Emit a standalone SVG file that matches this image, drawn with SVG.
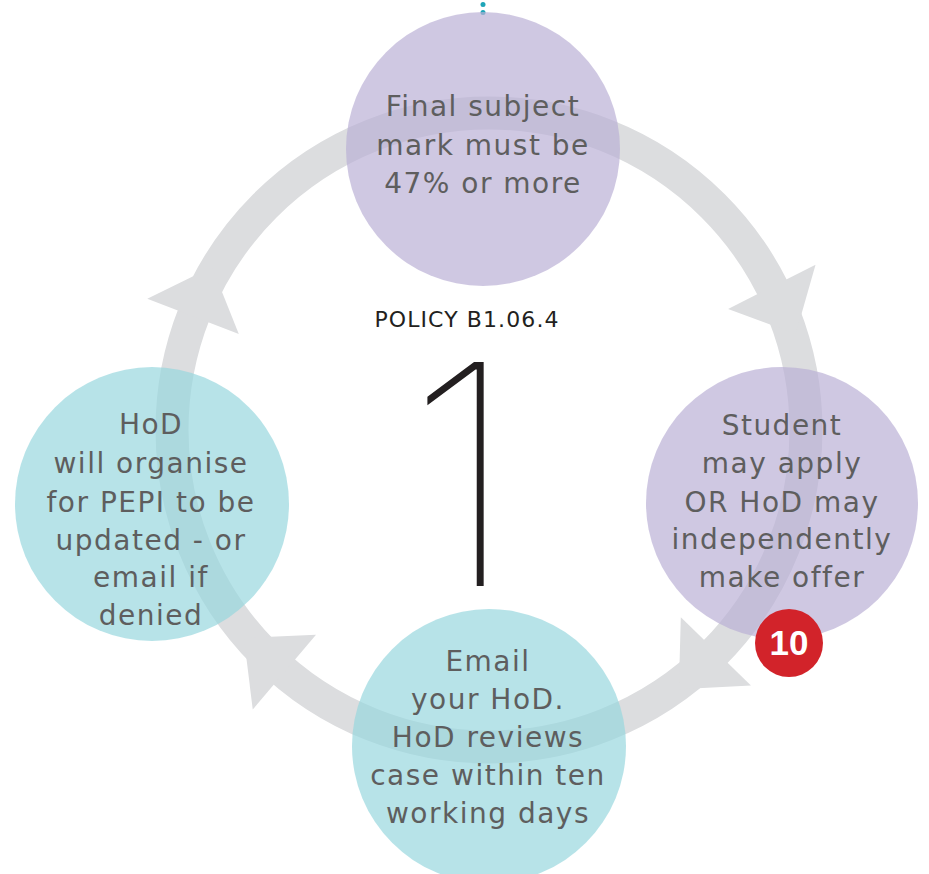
<svg xmlns="http://www.w3.org/2000/svg" width="929" height="874" viewBox="0 0 929 874">
<style>
  .ring{fill:none;stroke:#dcdddf;stroke-width:33}
  .head{fill:#dcdddf}
  .purple{fill:rgb(185,176,213);fill-opacity:0.69}
  .teal{fill:rgb(151,214,222);fill-opacity:0.69}
  .lbl{font-family:"DejaVu Sans",sans-serif;font-size:28px;letter-spacing:1.5px;fill:#5e5e5e;text-anchor:middle}
  .policy{font-family:"DejaVu Sans",sans-serif;font-size:22px;letter-spacing:1.1px;fill:#231f20;text-anchor:middle}
  .big{font-family:Inter,Lato,"Liberation Sans",sans-serif;font-weight:100;font-size:308px;fill:#231f20;text-anchor:middle}
  .badge{fill:#d2232a}
  .badgetxt{font-family:"Liberation Sans",sans-serif;font-weight:bold;font-size:35px;fill:#ffffff;text-anchor:middle}
  .dot{fill:#1fa5b8}
</style>
<defs>
  <polygon id="arrowhead" class="head" points="268,0 366,0 317,53"/>
</defs>
<rect width="929" height="874" fill="#ffffff"/>
<g id="connectors">
  <circle class="ring" cx="489" cy="430" r="317"/>
  <use href="#arrowhead" transform="translate(489 430) rotate(-159)"/>
  <use href="#arrowhead" transform="translate(489 430) rotate(-26.85)"/>
  <use href="#arrowhead" transform="translate(489 430) rotate(44.3)"/>
  <use href="#arrowhead" transform="translate(489 430) rotate(130.2)"/>
</g>
<g id="center">
  <text class="policy" x="467" y="327">POLICY B1.06.4</text>
  <text class="big" x="462" y="586">1</text>
</g>
<g id="dots">
  <circle class="dot" cx="483" cy="4.5" r="2.5"/>
  <circle class="dot" cx="483" cy="12.5" r="2.5"/>
</g>
<g id="node-top">
  <circle class="purple" cx="483" cy="149" r="137"/>
  <text class="lbl" x="483" y="116">Final subject</text>
  <text class="lbl" x="483" y="155">mark must be</text>
  <text class="lbl" x="483" y="193">47% or more</text>
</g>
<g id="node-right">
  <circle class="purple" cx="782" cy="503" r="136"/>
  <text class="lbl" x="782" y="435">Student</text>
  <text class="lbl" x="782" y="473">may apply</text>
  <text class="lbl" x="782" y="511.5">OR HoD may</text>
  <text class="lbl" x="782" y="549">independently</text>
  <text class="lbl" x="782" y="587">make offer</text>
</g>
<g id="node-bottom">
  <circle class="teal" cx="489" cy="746" r="137"/>
  <text class="lbl" x="488" y="671">Email</text>
  <text class="lbl" x="488" y="708.5">your HoD.</text>
  <text class="lbl" x="488" y="747">HoD reviews</text>
  <text class="lbl" x="488" y="785">case within ten</text>
  <text class="lbl" x="488" y="823">working days</text>
</g>
<g id="node-left">
  <circle class="teal" cx="152" cy="504" r="137"/>
  <text class="lbl" x="151" y="434">HoD</text>
  <text class="lbl" x="151" y="473">will organise</text>
  <text class="lbl" x="151" y="512">for PEPI to be</text>
  <text class="lbl" x="151" y="549.5">updated - or</text>
  <text class="lbl" x="151" y="587">email if</text>
  <text class="lbl" x="151" y="625">denied</text>
</g>
<g id="badge">
  <circle class="badge" cx="789" cy="643" r="34"/>
  <text class="badgetxt" x="789" y="655">10</text>
</g>
</svg>
